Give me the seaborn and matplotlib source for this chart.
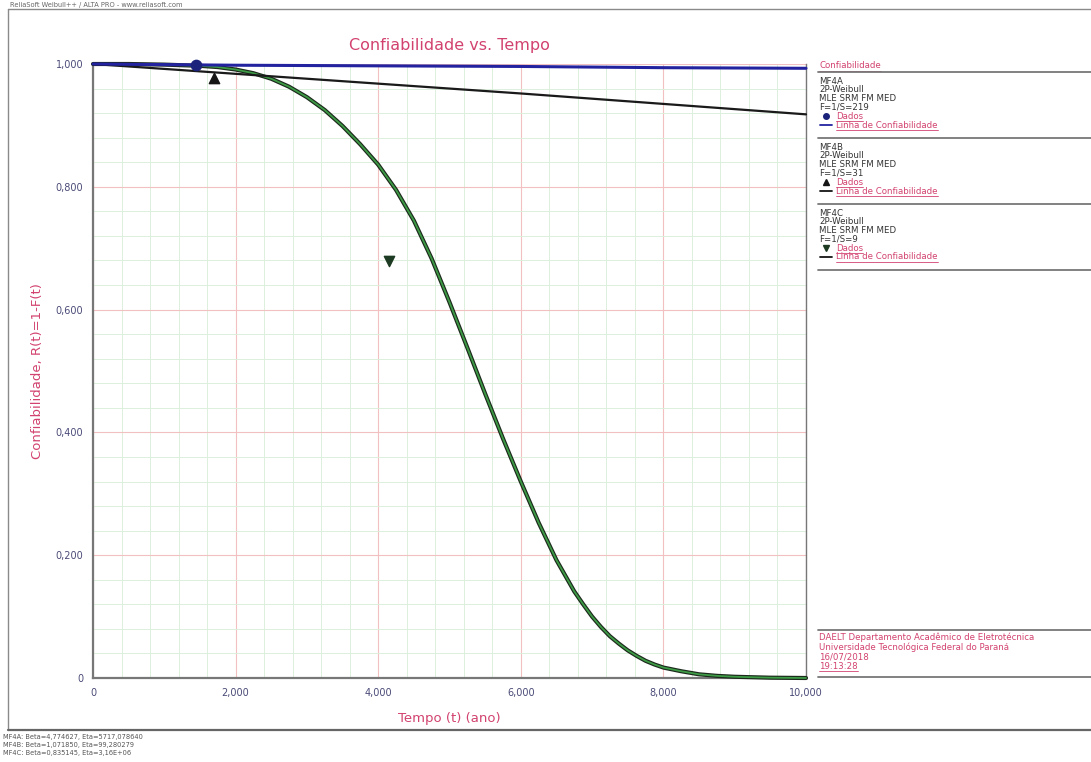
import matplotlib
matplotlib.use("Agg")
import matplotlib.pyplot as plt
import seaborn as sns
import numpy as np
import pandas as pd
from matplotlib.lines import Line2D
from matplotlib.ticker import MultipleLocator

# ---------------- data ----------------
t_a = [0, 2000, 4000, 6000, 8000, 10000]
r_a = [1.000, 0.998, 0.997, 0.996, 0.994, 0.993]

t_b = [0, 2000, 4000, 6000, 8000, 10000]
r_b = [1.000, 0.984, 0.968, 0.952, 0.935, 0.918]

t_c = [0, 500, 1000, 1500, 1750, 2000, 2250, 2500, 2750, 3000, 3250, 3500, 3750, 4000,
       4250, 4500, 4750, 5000, 5250, 5500, 5750, 6000, 6250, 6500, 6750, 6875, 7000,
       7125, 7250, 7375, 7500, 7625, 7750, 7875, 8000, 8250, 8500, 8750, 9000, 9500, 10000]
r_c = [1.000, 1.000, 0.999, 0.997, 0.995, 0.991, 0.985, 0.976, 0.963, 0.946, 0.925, 0.899,
       0.869, 0.836, 0.795, 0.745, 0.683, 0.612, 0.538, 0.463, 0.390, 0.320, 0.253,
       0.192, 0.141, 0.120, 0.100, 0.083, 0.068, 0.056, 0.045, 0.036, 0.028, 0.022,
       0.017, 0.011, 0.006, 0.0035, 0.002, 0.0005, 0.0]

pts_t = [1450, 1700, 4150]
pts_r = [0.999, 0.978, 0.679]

x_ticks = [0, 2000, 4000, 6000, 8000, 10000]
x_tick_labels = ["0", "2,000", "4,000", "6,000", "8,000", "10,000"]
y_ticks = [0, 0.2, 0.4, 0.6, 0.8, 1.0]
y_tick_labels = ["0", "0,200", "0,400", "0,600", "0,800", "1,000"]

legend_blocks = [
    ["MF4A", "2P-Weibull", "MLE SRM FM MED", "F=1/S=219"],
    ["MF4B", "2P-Weibull", "MLE SRM FM MED", "F=1/S=31"],
    ["MF4C", "2P-Weibull", "MLE SRM FM MED", "F=1/S=9"],
]
footer_lines = ["DAELT Departamento Acadêmico de Eletrotécnica",
                "Universidade Tecnológica Federal do Paraná",
                "16/07/2018", "19:13:28"]
bottom_lines = ["MF4A: Beta=4,774627, Eta=5717,078640",
                "MF4B: Beta=1,071850, Eta=99,280279",
                "MF4C: Beta=0,835145, Eta=3,16E+06"]

# ---------------- style ----------------
sns.set_style("white")
plt.rcParams['font.family'] = ['DejaVu Sans']

W, H = 1091, 762
fig = plt.figure(figsize=(W / 100, H / 100), dpi=100)
fig.patch.set_facecolor("white")

def fx(x):
    return x / W

def fy(y):
    return 1 - y / H

PINK = "#d2426f"
TICKC = "#4a4a78"
GRAYL = "#8a8a8a"

ax = fig.add_axes([fx(93), fy(678), fx(806) - fx(93), fy(64) - fy(678)])
ax.set_xlim(0, 10000)
ax.set_ylim(0, 1)

# grid
ax.xaxis.set_minor_locator(MultipleLocator(400))
ax.yaxis.set_minor_locator(MultipleLocator(0.04))
ax.grid(which="minor", color="#dcefdc", lw=0.7, zorder=0)
ax.grid(which="major", color="#f2c0c0", lw=0.8, zorder=0)
ax.set_axisbelow(True)

df_c = pd.DataFrame({"t": t_c, "r": r_c})
df_a = pd.DataFrame({"t": t_a, "r": r_a})
df_b = pd.DataFrame({"t": t_b, "r": r_b})

sns.lineplot(data=df_c, x="t", y="r", ax=ax, color="#1c2a1c", lw=3.0, zorder=3, sort=False)
sns.lineplot(data=df_c, x="t", y="r", ax=ax, color="#3d9a45", lw=1.3, zorder=4, sort=False)
sns.lineplot(data=df_b, x="t", y="r", ax=ax, color="#1a1a1a", lw=1.6, zorder=5, sort=False)
sns.lineplot(data=df_a, x="t", y="r", ax=ax, color="#2323a0", lw=2.2, zorder=6, sort=False)

for l in ax.lines:
    l.set_clip_on(False)
    l.set_solid_joinstyle("round")
    l.set_solid_capstyle("round")

markers = ["o", "^", "v"]
mcolors = ["#1b237a", "#151515", "#1d3a22"]
for t, r, m, c in zip(pts_t, pts_r, markers, mcolors):
    ax.scatter([t], [r], marker=m, s=55, color=c, zorder=8, clip_on=False, edgecolors=c)

ax.set_xticks(x_ticks)
ax.set_xticklabels(x_tick_labels)
ax.set_yticks(y_ticks)
ax.set_yticklabels(y_tick_labels)
ax.tick_params(axis="both", which="major", labelsize=7, colors=TICKC, length=4, width=0.8,
               direction="out", pad=3)
ax.tick_params(axis="both", which="minor", length=0)
ax.tick_params(axis="both", which="major", color="#555555")

for side in ["left", "bottom"]:
    ax.spines[side].set_color("#777777")
    ax.spines[side].set_linewidth(1.6)
ax.spines["right"].set_color("#777777")
ax.spines["right"].set_linewidth(1.0)
ax.spines["top"].set_visible(False)

ax.set_xlabel("Tempo (t) (ano)", color=PINK, fontsize=9.5, labelpad=10)
ax.set_ylabel("Confiabilidade, R(t)=1-F(t)", color=PINK, fontsize=9.5, labelpad=8)
ax.set_title("Confiabilidade vs. Tempo", color=PINK, fontsize=11.5, pad=10)

# ---------------- outer frame ----------------
fig.add_artist(Line2D([fx(8), fx(1091)], [fy(9), fy(9)], color=GRAYL, lw=1.0))
fig.add_artist(Line2D([fx(8), fx(8)], [fy(9), fy(730)], color=GRAYL, lw=1.0))
fig.add_artist(Line2D([fx(8), fx(1091)], [fy(730), fy(730)], color="#666666", lw=1.6))
fig.text(fx(10), fy(4.5), "ReliaSoft Weibull++ / ALTA PRO - www.reliasoft.com",
         fontsize=4.8, color="#666666", va="center", ha="left")

for i, s in enumerate(bottom_lines):
    fig.text(fx(3), fy(737 + i * 8), s, fontsize=4.8, color="#555555", va="center", ha="left")

# ---------------- right legend ----------------
renderer = fig.canvas.get_renderer()
FS = 6.2
LX = 819

def sep(y):
    fig.add_artist(Line2D([fx(818), fx(1091)], [fy(y), fy(y)], color="#777777", lw=1.3))

def underline_text(x, y, s, color=PINK):
    t = fig.text(fx(x), fy(y), s, fontsize=FS, color=color, va="center", ha="left")
    bb = t.get_window_extent(renderer=renderer)
    yy = bb.y0 - 0.5
    fig.add_artist(Line2D([bb.x0 / W, bb.x1 / W], [yy / H, yy / H], color=color, lw=0.6))
    return t

underline_text(LX, 66, "Confiabilidade")
sep(72)

line_cols = ["#2323a0", "#151515", "#151515"]
for b, block in enumerate(legend_blocks):
    top = 72 + b * 66
    for j, s in enumerate(block):
        fig.text(fx(LX), fy(top + 9 + j * 8.6), s, fontsize=FS, color="#333333",
                 va="center", ha="left")
    yd = top + 9 + 4 * 8.6 + 1
    fig.add_artist(Line2D([fx(826)], [fy(yd)], marker=markers[b], color=mcolors[b],
                          markersize=4, linestyle="none"))
    underline_text(836, yd, "Dados")
    yl = yd + 8.6
    fig.add_artist(Line2D([fx(820), fx(832)], [fy(yl), fy(yl)], color=line_cols[b], lw=1.3))
    underline_text(836, yl, "Linha de Confiabilidade")
    sep(top + 66)

# footer box
sep(630)
for i, s in enumerate(footer_lines):
    if i == len(footer_lines) - 1:
        underline_text(LX, 637 + i * 9.8, s)
    else:
        fig.text(fx(LX), fy(637 + i * 9.8), s, fontsize=FS, color=PINK, va="center", ha="left")
sep(677)

fig.savefig("out.png", dpi=100, facecolor="white")
